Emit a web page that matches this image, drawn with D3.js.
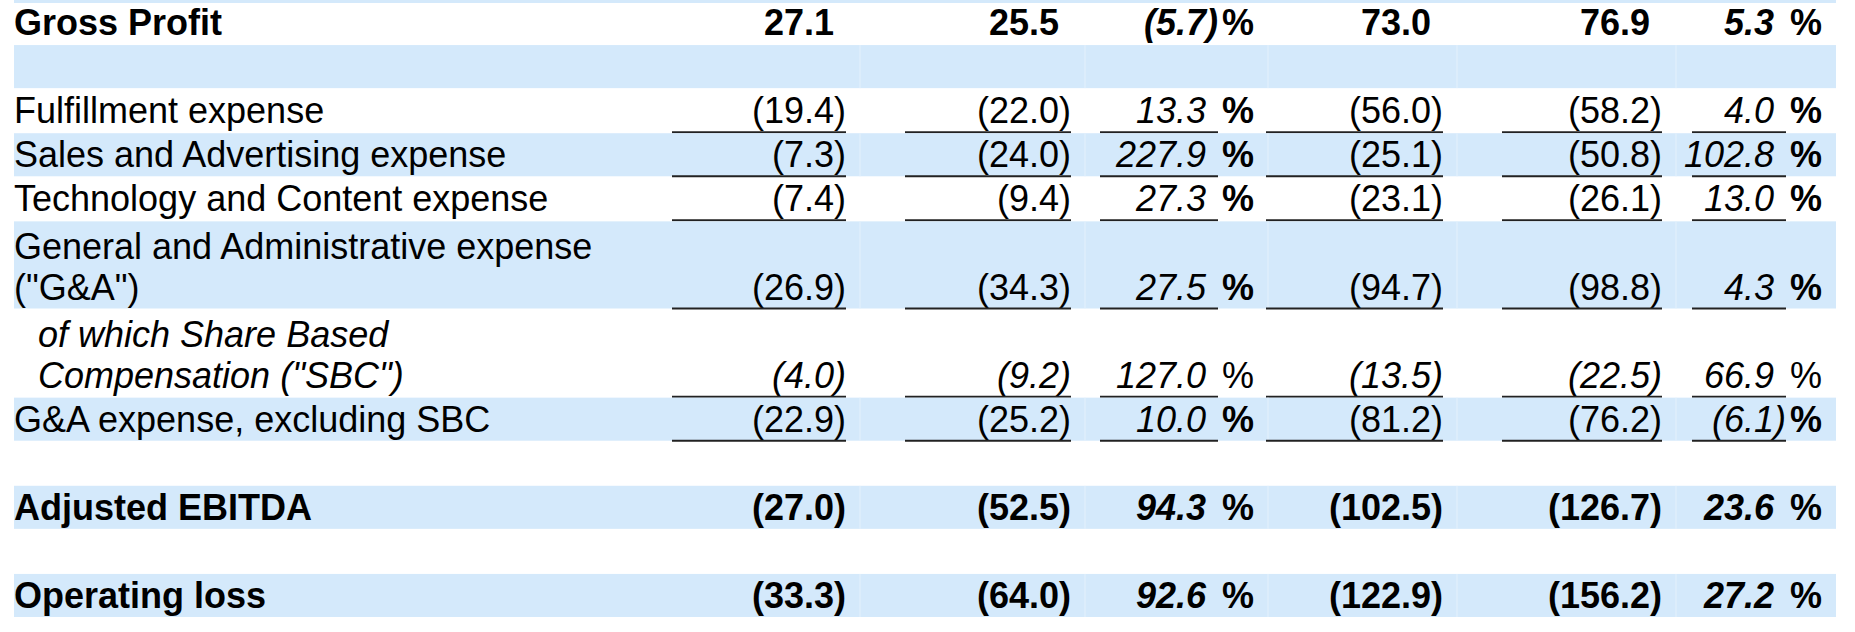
<!DOCTYPE html>
<html><head><meta charset="utf-8">
<script src="https://cdn.jsdelivr.net/npm/d3@7"></script>
<style>body{margin:0;background:#fff}</style></head>
<body><svg id="c" width="1855" height="632"></svg>
<script>
const labels = [["Gross Profit"],[""],["Fulfillment expense"],["Sales and Advertising expense"],["Technology and Content expense"],["General and Administrative expense","(\"G&A\")"],["of which Share Based","Compensation (\"SBC\")"],["G&A expense, excluding SBC"],[""],["Adjusted EBITDA"],[""],["Operating loss"]];
const rowUnits = [1,1,1,1,1,2,2,1,1,1,1,1];
const blueRows = [1,3,5,7,9,11];
const boldRows = [0,9,11];
const italicRows = [6];
const underlineRows = [2,3,4,5,6,7];
const q1 = [27.1,null,-19.4,-7.3,-7.4,-26.9,-4.0,-22.9,null,-27.0,null,-33.3];
const q2 = [25.5,null,-22.0,-24.0,-9.4,-34.3,-9.2,-25.2,null,-52.5,null,-64.0];
const qChg = [-5.7,null,13.3,227.9,27.3,27.5,127.0,10.0,null,94.3,null,92.6];
const y1 = [73.0,null,-56.0,-25.1,-23.1,-94.7,-13.5,-81.2,null,-102.5,null,-122.9];
const y2 = [76.9,null,-58.2,-50.8,-26.1,-98.8,-22.5,-76.2,null,-126.7,null,-156.2];
const yChg = [5.3,null,4.0,102.8,13.0,4.3,66.9,-6.1,null,23.6,null,27.2];

const cols = [
 {v:q1,x0:672,x1:846,pct:false},{v:q2,x0:905,x1:1071,pct:false},{v:qChg,x0:1100,x1:1218,pct:true},
 {v:y1,x0:1266,x1:1443,pct:false},{v:y2,x0:1502,x1:1662,pct:false},{v:yChg,x0:1692,x1:1786,pct:true}];

const svg = d3.select("#c");
const font = "'Liberation Sans', Arial, sans-serif";
const fs = 36;
const cum = [0]; rowUnits.forEach(u=>cum.push(cum[cum.length-1]+u));
const y = d3.scaleLinear().domain([0,14]).range([0,617]);
const blue = "#d4e9fb";
svg.append("rect").attr("x",14).attr("y",0).attr("width",1822).attr("height",3).attr("fill",blue);
labels.forEach((lab,i)=>{
  const top=y(cum[i]), bot=y(cum[i+1]);
  if(blueRows.includes(i)){
    svg.append("rect").attr("x",14).attr("y",top+1).attr("width",1822).attr("height",bot-top-1).attr("fill",blue);
    [846,1071,1254,1443,1662].forEach(x=>svg.append("line").attr("x1",x+14).attr("x2",x+14).attr("y1",top+1).attr("y2",bot).attr("stroke","#e4f1fc").attr("stroke-width",1));
  }
  const bold=boldRows.includes(i), it=italicRows.includes(i);
  const n=lab.length;
  lab.forEach((t,k)=>{
    svg.append("text").attr("x",it?38:14).attr("y",bot-9-(n-1-k)*41).text(t)
      .attr("font-family",font).attr("font-size",fs).attr("font-weight",bold?"bold":"normal")
      .attr("font-style",it?"italic":"normal").attr("fill","#000");
  });
  cols.forEach(c=>{
    const v=c.v[i]; if(v==null) return;
    const s=v<0?"("+Math.abs(v).toFixed(1)+")":Math.abs(v).toFixed(1);
    svg.append("text").attr("x",v<0?c.x1:c.x1-12).attr("y",bot-9).attr("text-anchor","end").text(s)
      .attr("font-family",font).attr("font-size",fs).attr("font-weight",bold?"bold":"normal")
      .attr("font-style",(it||c.pct)?"italic":"normal");
    if(c.pct){
      svg.append("text").attr("x",c.x1+4).attr("y",bot-9).text("%")
        .attr("font-family",font).attr("font-size",fs).attr("font-weight",it?"normal":"bold");
    }
    if(underlineRows.includes(i)){
      svg.append("line").attr("x1",c.x0).attr("x2",c.x1).attr("y1",bot).attr("y2",bot).attr("stroke","#222").attr("stroke-width",2);
    }
  });
});
</script></body></html>
